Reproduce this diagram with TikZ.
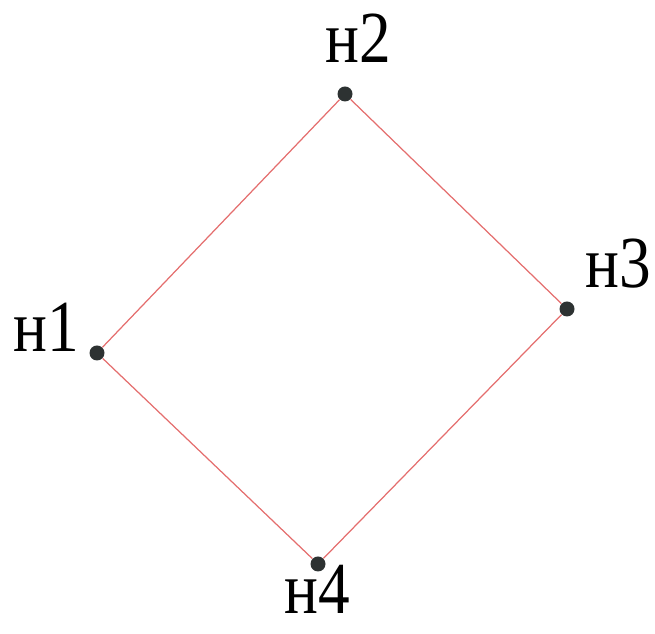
\documentclass[tikz,border=0pt]{standalone}
\usepackage{fontspec}
\setmainfont{Liberation Serif}
\usepackage{tikz}

\definecolor{edgered}{RGB}{228,110,110}
\definecolor{dotgray}{RGB}{45,50,50}

% labels are set a little taller than wide
\newcommand{\tallname}[1]{\scalebox{1}[1.16]{#1}}

\begin{document}
\begin{tikzpicture}[
        dot/.style={circle, fill=dotgray, inner sep=0pt, minimum size=0.3cm},
        lbl/.style={inner sep=0pt, font=\fontsize{36}{40}\selectfont},
        edge/.style={edgered, line width=0.7pt}
    ]
        \useasboundingbox (0,0) rectangle (13.1,12.68);

        \node[dot] (n1) at (1.94,5.62) {};
        \node[dot] (n2) at (6.90,10.80) {};
        \node[dot] (n3) at (11.34,6.50) {};
        \node[dot] (n4) at (6.36,1.40) {};

        \node[lbl] (l1) at (0.92,6.13) {\tallname{н1}};
        \node[lbl] (l2) at (7.16,11.92) {\tallname{н2}};
        \node[lbl] (l3) at (12.36,7.40) {\tallname{н3}};
        \node[lbl] (l4) at (6.34,0.90) {\tallname{н4}};

        \draw[edge] (n1) -- (n2);
        \draw[edge] (n2) -- (n3);
        \draw[edge] (n3) -- (n4);
        \draw[edge] (n4) -- (n1);
\end{tikzpicture}
\end{document}
